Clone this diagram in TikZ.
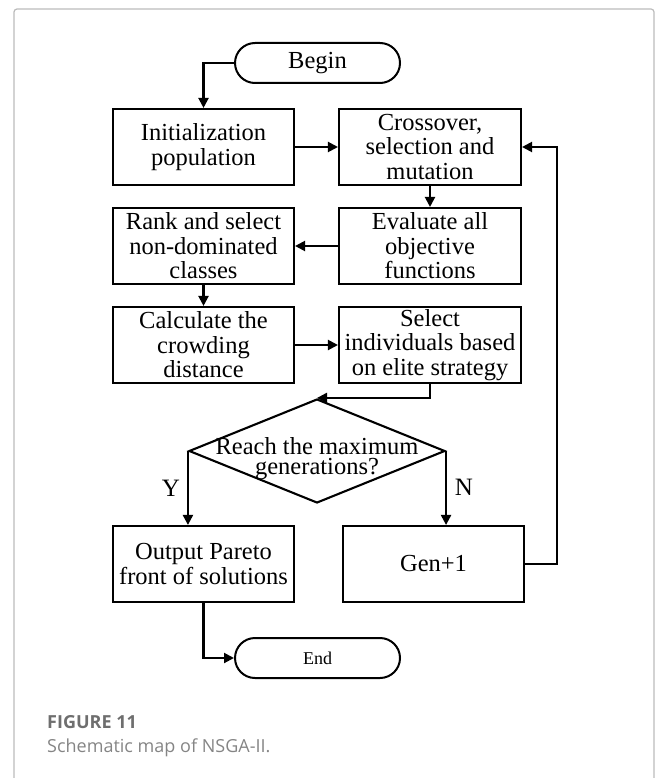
\documentclass[tikz,border=0pt]{standalone}
\usepackage{fontspec}
\setmainfont{Liberation Serif}
\newfontfamily\capfont{Open Sans}
\usetikzlibrary{arrows.meta,shapes.geometric}
\definecolor{framegray}{HTML}{BBBBBB}
\definecolor{capdark}{HTML}{6E6E6E}
\definecolor{caplight}{HTML}{858585}
\tikzset{
  box/.style={draw, line width=2.1pt, minimum width=181pt, minimum height=76pt, inner sep=0pt, align=center, font=\fontsize{24.5}{24.5}\selectfont},
  term/.style={draw, line width=2pt, minimum width=165pt, minimum height=40pt, rounded corners=20pt, inner sep=0pt},
  arr/.style={line width=2.1pt, -{Triangle[length=10pt,width=10pt]}},
  lbl/.style={font=\fontsize{25}{25}\selectfont, inner sep=0pt}
}
\begin{document}
\begin{tikzpicture}[x=1pt,y=-1pt]
\useasboundingbox (0,0) rectangle (656,778);
% outer frame
\draw[framegray, line width=1.2pt, rounded corners=3pt] (14,790) -- (14,9) -- (654,9) -- (654,790);

% nodes
\node[term, font=\fontsize{24.5}{24.5}\selectfont] (begin) at (317.5,63) {Begin};
\node[box] (init) at (203.5,147) {Initialization\\population};
\node[box, minimum width=182pt] (cross) at (430,147) {Crossover,\\selection and\\mutation};
\node[box, minimum width=182pt] (eval) at (430,246) {Evaluate all\\objective\\functions};
\node[box] (rank) at (203.5,246) {Rank and select\\non-dominated\\classes};
\node[box] (calc) at (203.5,345) {Calculate the\\crowding\\distance};
\node[box, minimum width=182pt] (sel) at (430,345) {Select\\individuals based\\on elite strategy};
\node[diamond, draw, line width=2.1pt, minimum width=256pt, minimum height=104pt, inner sep=0pt, aspect=2.46] (dec) at (317,451) {};
\node[align=center, inner sep=0pt, font=\fontsize{24.5}{20}\selectfont] (dectext) at (317,458.5) {Reach the maximum\\generations?};
\node[box] (out) at (203.5,564) {Output Pareto\\front of solutions};
\node[box] (gen) at (433.5,564) {Gen+1};
\node[term, font=\fontsize{18}{18}\selectfont] (end) at (317.5,658) {End};

% labels
\node[lbl] (ylab) at (171,488) {Y};
\node[lbl] (nlab) at (464,487) {N};

% connectors
\draw[arr] (begin.west) -| (init.north);
\draw[arr] (init.east) -- (cross.west);
\draw[arr] (cross.south) -- (eval.north);
\draw[arr] (eval.west) -- (rank.east);
\draw[arr] (rank.south) -- (calc.north);
\draw[arr] (calc.east) -- (sel.west);
\draw[arr] (sel.south) |- (dec.north);
\draw[arr] (dec.west) -- (dec.west |- out.north);
\draw[arr] (dec.east) -- (dec.east |- gen.north);
\coordinate (loop) at (557,564);
\draw[arr] (gen.east) -- (loop) |- (cross.east);
\draw[arr] (out.south) |- (end.west);

% caption
\node[anchor=base west, inner sep=0pt, text=capdark, font=\capfont\bfseries\fontsize{18}{18}\selectfont] (figlab) at (47,728) {FIGURE 11};
\node[anchor=base west, inner sep=0pt, text=caplight, font=\capfont\fontsize{18}{18}\selectfont] (figcap) at (47,752) {Schematic map of NSGA-II.};
\end{tikzpicture}
\end{document}
